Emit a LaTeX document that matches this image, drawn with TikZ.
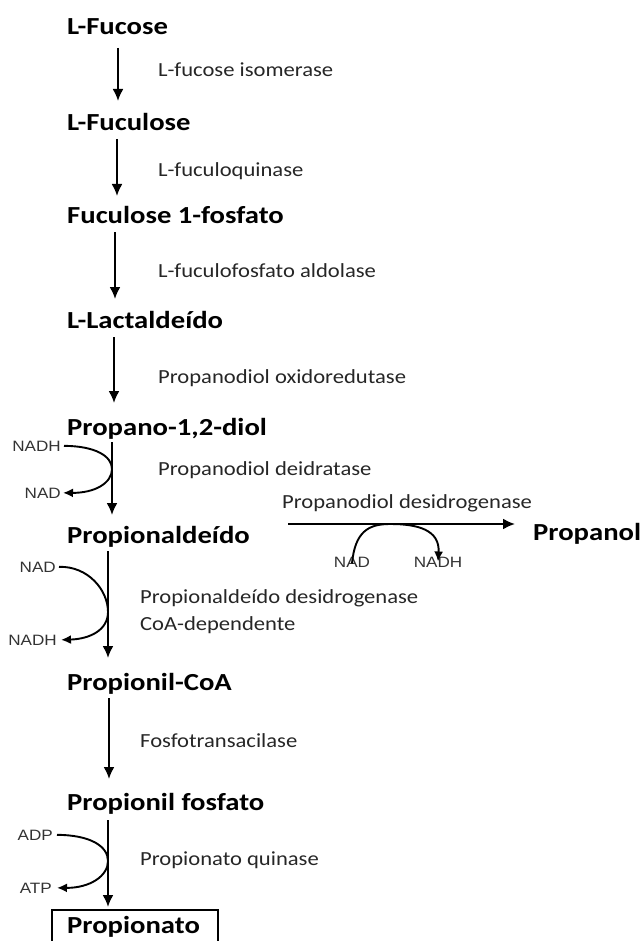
\documentclass[tikz,border=0pt]{standalone}
\usepackage{fontspec}
\usepackage{graphicx}
\setmainfont{Carlito}
\newfontfamily\smallsans{Liberation Sans}
\usetikzlibrary{arrows.meta}
\definecolor{smallgrey}{HTML}{333333}
\newcommand{\wideT}[1]{\scalebox{1.17}[1]{#1}}
\newcommand{\wideL}[1]{\scalebox{1.13}[1]{#1}}
\newcommand{\wideS}[1]{\scalebox{1.14}[1]{#1}}
\begin{document}
\begin{tikzpicture}[x=1pt,y=-1pt,
  title/.style={anchor=base west,inner sep=0pt,font=\fontsize{24.5}{28}\selectfont\bfseries},
  enz/.style={anchor=base west,inner sep=0pt,text=black!85,font=\fontsize{20}{24}\selectfont},
  cof/.style={inner sep=0pt,text=smallgrey,font=\smallsans\fontsize{15}{18}\selectfont},
  mainarrow/.style={line width=2.1pt,-{Latex[length=12pt,width=11pt]}},
  sidearrow/.style={line width=1.9pt,-{Latex[length=10pt,width=9pt]}},
]
\useasboundingbox (0,0) rectangle (644,941);

% titles
\node[title] (fuc) at (67,35) {\wideT{L-Fucose}};
\node[title] (ful) at (67,131) {\wideT{L-Fuculose}};
\node[title] (fup) at (67,223) {\wideT{Fuculose 1-fosfato}};
\node[title] (lac) at (67,328) {\wideT{L-Lactaldeído}};
\node[title] (pdiol) at (67,435) {\wideT{Propano-1,2-diol}};
\node[title] (pald) at (67,543) {\wideT{Propionaldeído}};
\node[title] (pcoa) at (67,690) {\wideT{Propionil-CoA}};
\node[title] (pfos) at (67,810) {\wideT{Propionil fosfato}};
\node[title] (pato) at (67,933) {\wideT{Propionato}};
\node[title] (pol) at (533,540) {\wideT{Propanol}};

% box round Propionato
\draw[line width=1.2pt] (52,945) |- (218,910) -- (218,945);

% enzymes
\node[enz] (e1) at (158,77) {\wideL{L-fucose isomerase}};
\node[enz] (e2) at (158,177) {\wideL{L-fuculoquinase}};
\node[enz] (e3) at (158,277) {\wideL{L-fuculofosfato aldolase}};
\node[enz] (e4) at (158,383) {\wideL{Propanodiol oxidoredutase}};
\node[enz] (e5) at (158,475) {\wideL{Propanodiol deidratase}};
\node[enz] (e6) at (282,508) {\wideL{Propanodiol desidrogenase}};
\node[enz] (e7) at (140,603) {\wideL{Propionaldeído desidrogenase}};
\node[enz] (e7b) at (140,630) {\wideL{CoA-dependente}};
\node[enz] (e8) at (140,747) {\wideL{Fosfotransacilase}};
\node[enz] (e9) at (140,865) {\wideL{Propionato quinase}};

% main arrows
\coordinate (a1s) at (118,48);  \coordinate (a1e) at (118,101);
\coordinate (a2s) at (117,139); \coordinate (a2e) at (117,196);
\coordinate (a3s) at (115,232); \coordinate (a3e) at (115,299);
\coordinate (a4s) at (114,337); \coordinate (a4e) at (114,403);
\coordinate (a5s) at (112,442); \coordinate (a5e) at (112,515);
\coordinate (a6s) at (108,551); \coordinate (a6e) at (108,658);
\coordinate (a7s) at (109,698); \coordinate (a7e) at (109,779);
\coordinate (a8s) at (108,820); \coordinate (a8e) at (108,907);
\coordinate (hs) at (288,524);  \coordinate (he) at (515,524);
\foreach \i in {1,...,8}{\draw[mainarrow] (a\i s) -- (a\i e);}
\draw[mainarrow] (hs) -- (he);

% cofactors
\node[cof,anchor=base east] (c1a) at (61,451) {\wideS{NADH}};
\node[cof,anchor=base east] (c1b) at (61,498) {\wideS{NAD}};
\node[cof,anchor=base east] (c2a) at (56,572) {\wideS{NAD}};
\node[cof,anchor=base east] (c2b) at (57,645) {\wideS{NADH}};
\node[cof,anchor=base east] (c3a) at (53,840) {\wideS{ADP}};
\node[cof,anchor=base east] (c3b) at (52,893) {\wideS{ATP}};
\node[cof,anchor=base] (c4a) at (352,567) {\wideS{NAD}};
\node[cof,anchor=base] (c4b) at (438,567) {\wideS{NADH}};

\draw[sidearrow] ([xshift=3pt]c1a.east) .. controls (95,446) and (112,456) .. (112,469)
   .. controls (112,483) and (95,493) .. ([xshift=2pt]c1b.east);
\draw[sidearrow] ([xshift=3pt]c2a.east) .. controls (88,566) and (108,590) .. (108,612)
   .. controls (108,630) and (90,639) .. ([xshift=4pt]c2b.east);
\draw[sidearrow] ([xshift=4pt]c3a.east) .. controls (90,835) and (108,846) .. (108,861)
   .. controls (108,876) and (90,888) .. ([xshift=5pt]c3b.east);
\draw[sidearrow] ([yshift=-7pt]c4a.north) .. controls (355,532) and (368,524) .. (390,524)
   .. controls (418,524) and (440,530) .. ([yshift=-5pt]c4b.north);
\end{tikzpicture}
\end{document}
